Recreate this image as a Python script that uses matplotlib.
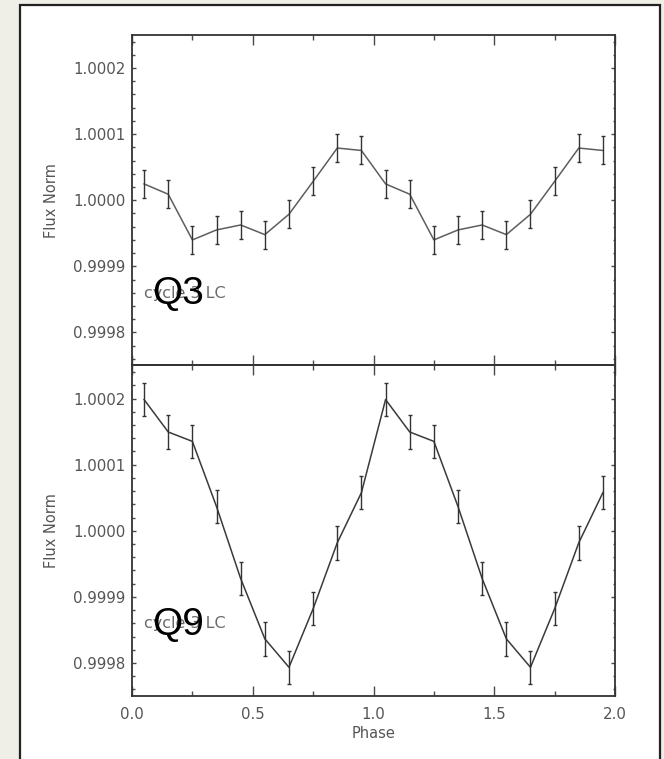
import matplotlib
matplotlib.use("Agg")
import matplotlib.pyplot as plt
from matplotlib.ticker import MultipleLocator, FormatStrFormatter
from matplotlib.patches import Rectangle

phase = [0.05, 0.15, 0.25, 0.35, 0.45, 0.55, 0.65, 0.75, 0.85, 0.95,
         1.05, 1.15, 1.25, 1.35, 1.45, 1.55, 1.65, 1.75, 1.85, 1.95]

flux_q3 = [1.0000247, 1.0000091, 0.9999400, 0.9999551, 0.9999626, 0.9999480,
           0.9999788, 1.0000285, 1.0000790, 1.0000753,
           1.0000247, 1.0000091, 0.9999400, 0.9999551, 0.9999626, 0.9999480,
           0.9999788, 1.0000285, 1.0000790, 1.0000753]
err_q3 = [0.0000212] * 20

flux_q9 = [1.0001985, 1.0001494, 1.0001352, 1.0000365, 0.9999276, 0.9998365,
           0.9997934, 0.9998820, 0.9999818, 1.0000577,
           1.0001985, 1.0001494, 1.0001352, 1.0000365, 0.9999276, 0.9998365,
           0.9997934, 0.9998820, 0.9999818, 1.0000577]
err_q9 = [0.0000253] * 20

panel_titles = ["Q3", "Q9"]
panel_notes = ["cycle 3 LC", "cycle 3 LC"]
xlabel = "Phase"
ylabel = "Flux Norm"

W, H = 664, 759
plt.rcParams['font.family'] = ['DejaVu Sans']
fig = plt.figure(figsize=(W / 100, H / 100), dpi=100)
fig.patch.set_facecolor("#efeee7")

# white framed panel (background)
bg = fig.add_axes([0, 0, 1, 1], zorder=-10)
bg.set_axis_off()
bg.set_xlim(0, 1)
bg.set_ylim(0, 1)
bg.add_patch(Rectangle((20 / W, -0.01), (660 - 20) / W, (H - 5) / H + 0.01,
                       facecolor="white", edgecolor="#222222", linewidth=1.6))

left = 132 / W
width = (615 - 132) / W
ph = 330.5 / H
ax_bot = fig.add_axes([left, 63 / H, width, ph])
ax_top = fig.add_axes([left, 63 / H + ph, width, ph])

tick_col = "#4a4a4a"
label_col = "#555555"
for ax, flux, err, title, note, lc in [
        (ax_top, flux_q3, err_q3, panel_titles[0], panel_notes[0], "#5e5e5e"),
        (ax_bot, flux_q9, err_q9, panel_titles[1], panel_notes[1], "#3a3a3a")]:
    ax.set_facecolor("none")
    ax.plot(phase, flux, color=lc, lw=1.1, zorder=3)
    ax.errorbar(phase, flux, yerr=err, fmt="none", ecolor="#333333",
                elinewidth=1.0, capsize=1.3, capthick=1.0, zorder=3)
    ax.set_xlim(0.0, 2.0)
    ax.set_ylim(0.99975, 1.00025)
    ax.xaxis.set_major_locator(MultipleLocator(0.5))
    ax.xaxis.set_minor_locator(MultipleLocator(0.25))
    ax.yaxis.set_major_locator(MultipleLocator(0.0001))
    ax.yaxis.set_minor_locator(MultipleLocator(0.00002))
    ax.yaxis.set_major_formatter(FormatStrFormatter("%.4f"))
    ax.xaxis.set_major_formatter(FormatStrFormatter("%.1f"))
    ax.tick_params(axis="x", which="major", direction="in", length=7.2, width=1.0,
                   top=True, bottom=True, color=tick_col, labelsize=10.8,
                   labelcolor=label_col, pad=8)
    ax.tick_params(axis="x", which="minor", direction="in", length=3.3, width=1.0,
                   top=True, bottom=True, color=tick_col)
    ax.tick_params(axis="y", which="major", direction="in", length=2.6, width=1.0,
                   left=True, right=True, color=tick_col, labelsize=10.8,
                   labelcolor=label_col, pad=4.5)
    ax.tick_params(axis="y", which="minor", direction="in", length=1.8, width=1.0,
                   left=True, right=True, color=tick_col)
    for s in ax.spines.values():
        s.set_color("#333333")
        s.set_linewidth(1.3)
    ax.set_ylabel(ylabel, fontsize=10.5, color=label_col, labelpad=10)
    ax.text(0.024, 0.205, note, transform=ax.transAxes, fontsize=11.5,
            color="#6a6a6a", ha="left", va="baseline", zorder=4)
    ax.text(0.042, 0.185, title, transform=ax.transAxes, fontsize=28,
            family=["Liberation Sans", "DejaVu Sans"],
            color="black", ha="left", va="baseline", zorder=5)

ax_top.tick_params(axis="x", labelbottom=False)
ax_bot.set_xlabel(xlabel, fontsize=10.5, color=label_col, labelpad=3)

fig.savefig("out.png", dpi=100, facecolor=fig.get_facecolor())
